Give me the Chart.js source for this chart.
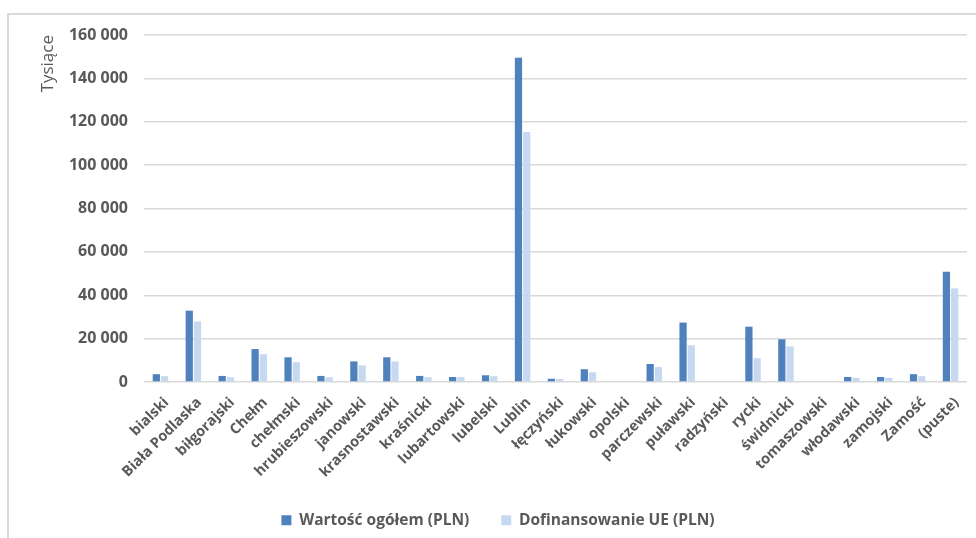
<!DOCTYPE html>
<html>
<head>
<meta charset="utf-8">
<script src="https://cdn.jsdelivr.net/npm/chart.js@4/dist/chart.umd.min.js"></script>
<style>
    html, body { margin: 0; padding: 0; background: #fff; overflow: hidden; }
    #frame {
        position: absolute; left: 7px; top: 13px; width: 1000px; height: 600px;
        border-left: 2px solid #d9d9d9; border-top: 2px solid #d9d9d9;
    }
    #wrap { position: absolute; left: 9px; top: 15px; width: 967px; height: 523px; }
</style>
</head>
<body>
<div id="frame"></div>
<div id="wrap"><canvas id="chart"></canvas></div>
<script>
// values in thousands of PLN (axis shows "Tysiące")
const categories = [
    'bialski', 'Biała Podlaska', 'biłgorajski', 'Chełm', 'chełmski', 'hrubieszowski',
    'janowski', 'krasnostawski', 'kraśnicki', 'lubartowski', 'lubelski', 'Lublin',
    'łęczyński', 'łukowski', 'opolski', 'parczewski', 'puławski', 'radzyński',
    'rycki', 'świdnicki', 'tomaszowski', 'włodawski', 'zamojski', 'Zamość', '(puste)'
];
const wartoscOgolem = [
    3600, 32900, 2800, 15200, 11400, 2800,
    9500, 11400, 2800, 2300, 3100, 149500,
    1500, 5900, 0, 8300, 27400, 0,
    25500, 19700, 0, 2300, 2300, 3600, 50800
];
const dofinansowanieUE = [
    2700, 27900, 2200, 12800, 9100, 2200,
    7700, 9500, 2200, 2300, 2700, 115300,
    1400, 4500, 0, 6900, 16900, 0,
    11000, 16400, 0, 1900, 1900, 2700, 43200
];
const yMin = 0;
const yMax = 160000;
const yStep = 20000;

const gray = '#595959';
const fontFamily = '"Open Sans", "Noto Sans", sans-serif';

function formatThousands(v) {
    return String(v).replace(/\B(?=(\d{3})+(?!\d))/g, ' ');
}

document.addEventListener('DOMContentLoaded', function () {
    new Chart(document.getElementById('chart'), {
        type: 'bar',
        data: {
            labels: categories,
            datasets: [
                {
                    label: 'Wartość ogółem (PLN)',
                    data: wartoscOgolem,
                    backgroundColor: '#4f81bd',
                    borderWidth: 0
                },
                {
                    label: 'Dofinansowanie UE (PLN)',
                    data: dofinansowanieUE,
                    backgroundColor: '#c6d9f1',
                    borderWidth: 0
                }
            ]
        },
        options: {
            responsive: true,
            maintainAspectRatio: false,
            animation: false,
            datasets: {
                bar: { categoryPercentage: 0.5, barPercentage: 0.88 }
            },
            layout: {
                padding: { top: 20, right: 9, bottom: 0, left: 20 }
            },
            plugins: {
                legend: {
                    position: 'bottom',
                    labels: {
                        boxWidth: 10,
                        boxHeight: 10,
                        padding: 32,
                        color: gray,
                        font: { family: fontFamily, size: 15.5, weight: 'bold' }
                    }
                },
                tooltip: { enabled: false }
            },
            scales: {
                x: {
                    grid: { display: false },
                    border: { display: false },
                    ticks: {
                        minRotation: 45,
                        maxRotation: 45,
                        autoSkip: false,
                        padding: 4,
                        labelOffset: 6,
                        color: gray,
                        font: { family: fontFamily, size: 14.5, weight: 'bold' }
                    },
                    afterFit: function (scale) { scale.height = 98.5; }
                },
                y: {
                    min: yMin,
                    max: yMax,
                    border: { display: false },
                    grid: {
                        color: '#d9d9d9',
                        lineWidth: 1.5,
                        tickLength: 14,
                        tickColor: 'rgba(0,0,0,0)'
                    },
                    ticks: {
                        stepSize: yStep,
                        padding: 2,
                        color: gray,
                        font: { family: fontFamily, size: 16, weight: 'bold' },
                        callback: function (v) { return formatThousands(v); }
                    },
                    title: {
                        display: true,
                        text: 'Tysiące',
                        align: 'end',
                        color: gray,
                        padding: { top: 9, bottom: 0 },
                        font: { family: fontFamily, size: 17 }
                    },
                    afterFit: function (scale) { scale.width = 115; }
                }
            }
        }
    });
});
</script>
</body>
</html>
